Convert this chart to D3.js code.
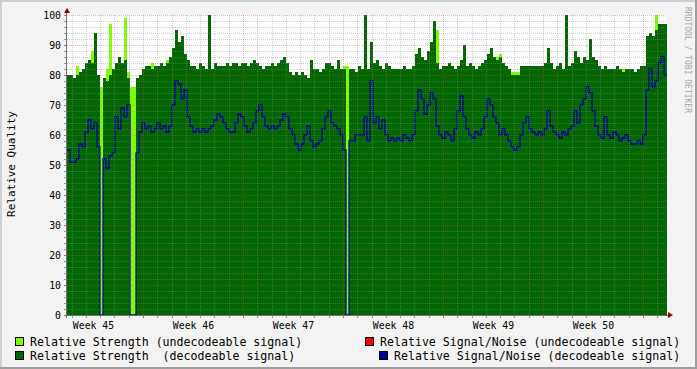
<!DOCTYPE html>
<html>
<head>
<meta charset="utf-8">
<script src="https://cdn.jsdelivr.net/npm/d3@7"></script>
<style>
body { margin: 0; background: #f3f3f3; }
svg { display: block; }
text { font-family: "DejaVu Sans Mono", monospace; fill: #000; }
</style>
</head>
<body>
<script>
// one sample every 5.04 hours, starting Tue 3 Nov 2009 16:19 UTC
var strengthDecode = [80,80,79,80,81,82,84,85,84,94, 80,0,79,78,80,82,84,86,84,85,
  79,0,0,79,80,82,83,83,82,83, 83,84,83,84,86,89,95,91,93,87,
  85,83,83,82,84,83,82,100,82,84, 83,83,83,84,83,84,84,83,84,84,
  83,84,85,84,83,82,83,83,84,83, 84,85,86,84,81,80,81,80,81,80,
  79,85,82,82,81,82,84,84,83,82, 85,82,82,0,82,82,81,83,82,100,
  82,91,84,85,83,82,84,83,82,82, 82,82,83,82,82,83,87,89,86,85,
  88,91,98,84,82,83,83,84,83,82, 83,85,90,83,84,83,82,83,84,85,
  87,89,86,85,86,84,83,82,80,80, 80,83,83,83,83,83,83,83,83,84,
  89,84,82,83,84,82,100,83,84,88, 86,84,86,85,92,86,85,83,82,83,
  82,82,82,83,82,81,82,82,82,81, 82,83,83,93,94,93,95,97,97,97];

var strengthUndecode = [80,80,79,83,81,82,84,85,88,94, 80,76,79,82,97,82,84,86,84,99,
  81,76,76,79,80,82,83,83,84,83, 83,84,83,85,86,89,95,91,93,87,
  85,83,83,82,84,83,82,100,82,84, 83,83,83,84,83,84,84,83,84,84,
  83,84,85,84,83,82,83,83,84,83, 84,85,86,84,81,80,81,80,81,80,
  79,85,82,82,81,82,84,84,83,82, 85,82,83,83,82,82,81,83,82,100,
  82,91,84,85,83,82,84,83,82,82, 82,82,83,82,82,83,87,89,86,85,
  88,91,98,95,82,83,83,84,83,82, 83,85,90,83,84,83,82,83,84,85,
  87,89,86,86,87,84,83,82,81,81, 81,83,83,83,83,83,83,83,83,84,
  89,84,82,83,84,82,100,83,84,88, 86,84,86,85,92,86,85,83,82,83,
  82,82,82,83,82,82,82,82,82,81, 82,83,83,93,94,93,100,97,97,97];

var snrDecode = [55,51,51,52,57,56,61,65,62,64, 56,0,52,49,53,54,66,62,69,66,
  70,0,0,54,61,64,62,63,61,62, 64,62,63,61,63,70,78,77,72,75,
  66,63,61,62,61,62,61,62,63,65, 67,66,64,62,61,61,64,67,66,63,
  61,62,64,68,70,66,63,62,63,62, 63,65,67,66,62,60,57,55,57,60,
  63,58,56,57,58,62,66,68,64,63, 62,60,55,0,58,58,60,60,60,66,
  58,78,64,66,62,65,60,58,59,58, 59,58,60,59,58,60,68,75,72,67,
  70,74,72,63,60,59,61,60,58,62, 68,73,66,62,60,59,61,60,62,66,
  72,70,66,64,60,62,60,58,56,55, 56,60,64,66,62,61,60,61,60,62,
  68,63,61,60,59,61,60,62,63,68, 64,70,72,76,74,68,63,60,59,66,
  60,59,61,60,58,59,60,58,57,57, 58,57,60,75,82,76,78,84,86,80];

var weeks = [45, 46, 47, 48, 49, 50];
var yTicks = [0, 10, 20, 30, 40, 50, 60, 70, 80, 90, 100];

var startTime = Date.UTC(2009, 10, 3, 16, 19);
var stepMs = 5.04 * 3600e3;
var endTime = startTime + strengthDecode.length * stepMs;
var DAY = 864e5;

var W = 697, H = 369;
var pLeft = 67, pRight = 667, pTop = 15, pBottom = 315;

var svg = d3.select("body").append("svg")
    .attr("width", W)
    .attr("height", H);

// background and 3d frame
svg.append("rect").attr("width", W).attr("height", H).attr("fill", "#f3f3f3");
svg.append("rect").attr("x", 0).attr("y", 0).attr("width", W).attr("height", 2).attr("fill", "#cfcfcf");
svg.append("rect").attr("x", 0).attr("y", 0).attr("width", 2).attr("height", H).attr("fill", "#cfcfcf");
svg.append("rect").attr("x", 0).attr("y", H - 2).attr("width", W).attr("height", 2).attr("fill", "#9e9e9e");
svg.append("rect").attr("x", W - 2).attr("y", 0).attr("width", 2).attr("height", H).attr("fill", "#9e9e9e");

var x = d3.scaleUtc()
    .domain([startTime, endTime])
    .range([pLeft, pRight]);

var y = d3.scaleLinear()
    .domain([0, 100])
    .range([pBottom, pTop]);

svg.append("rect")
    .attr("x", pLeft).attr("y", pTop)
    .attr("width", pRight - pLeft).attr("height", pBottom - pTop)
    .attr("fill", "#fff");

svg.append("clipPath").attr("id", "clip")
  .append("rect")
    .attr("x", pLeft).attr("y", pTop - 1)
    .attr("width", pRight - pLeft).attr("height", pBottom - pTop + 1);

function points(vals) {
    var pts = vals.map(function(v, i) { return {t: startTime + i * stepMs, v: v}; });
    pts.push({t: endTime, v: vals[vals.length - 1]});
    return pts;
}

var area = d3.area()
    .curve(d3.curveStepAfter)
    .x(function(d) { return x(d.t); })
    .y0(y(0))
    .y1(function(d) { return y(d.v); });

var line = d3.line()
    .curve(d3.curveStepAfter)
    .x(function(d) { return x(d.t); })
    .y(function(d) { return y(d.v); });

var plot = svg.append("g").attr("clip-path", "url(#clip)");

plot.append("path").datum(points(strengthUndecode))
    .attr("d", area).attr("fill", "#80ff00");
plot.append("path").datum(points(strengthDecode))
    .attr("d", area).attr("fill", "#006600");

// grid
var grid = svg.append("g").attr("fill", "none").attr("stroke-dasharray", "1,1");
var minorY = d3.range(0, 101, 2).filter(function(v) { return v % 10 !== 0; });
grid.selectAll(".hminor").data(minorY).enter().append("line")
    .attr("x1", pLeft).attr("x2", pRight)
    .attr("y1", function(d) { return y(d) + 0.5; })
    .attr("y2", function(d) { return y(d) + 0.5; })
    .attr("stroke", "rgba(143,143,143,0.4)");
var days = x.ticks(d3.utcDay).filter(function(d) { return d.getUTCDay() !== 1; });
grid.selectAll(".vminor").data(days).enter().append("line")
    .attr("x1", function(d) { return Math.round(x(d)) + 0.5; })
    .attr("x2", function(d) { return Math.round(x(d)) + 0.5; })
    .attr("y1", pTop).attr("y2", pBottom)
    .attr("stroke", "rgba(143,143,143,0.4)");
grid.selectAll(".hmajor").data(yTicks.slice(1)).enter().append("line")
    .attr("x1", pLeft).attr("x2", pRight)
    .attr("y1", function(d) { return y(d) + 0.5; })
    .attr("y2", function(d) { return y(d) + 0.5; })
    .attr("stroke", "rgba(222,80,80,0.38)");
var mondays = x.ticks(d3.utcMonday);
grid.selectAll(".vmajor").data(mondays).enter().append("line")
    .attr("x1", function(d) { return Math.round(x(d)) + 0.5; })
    .attr("x2", function(d) { return Math.round(x(d)) + 0.5; })
    .attr("y1", pTop).attr("y2", pBottom)
    .attr("stroke", "rgba(222,80,80,0.38)");

plot.append("path").datum(points(snrDecode))
    .attr("d", line)
    .attr("fill", "none")
    .attr("stroke", "#000099")
    .attr("stroke-width", 1.3);

// tick marks
var ticks = svg.append("g");
ticks.selectAll(".yt").data(d3.range(0, 101, 2)).enter().append("line")
    .attr("x1", pLeft - 3).attr("x2", pLeft)
    .attr("y1", function(d) { return y(d) + 0.5; })
    .attr("y2", function(d) { return y(d) + 0.5; })
    .attr("stroke", function(d) { return d % 10 === 0 ? "#d06060" : "#999"; });
ticks.selectAll(".xt").data(days).enter().append("line")
    .attr("x1", function(d) { return Math.round(x(d)) + 0.5; })
    .attr("x2", function(d) { return Math.round(x(d)) + 0.5; })
    .attr("y1", pBottom).attr("y2", pBottom + 3)
    .attr("stroke", "#999");
ticks.selectAll(".xm").data(mondays).enter().append("line")
    .attr("x1", function(d) { return Math.round(x(d)) + 0.5; })
    .attr("x2", function(d) { return Math.round(x(d)) + 0.5; })
    .attr("y1", pBottom).attr("y2", pBottom + 3)
    .attr("stroke", "#d06060");

// axes lines + arrows
svg.append("line").attr("x1", pLeft - 0.5).attr("x2", pLeft - 0.5)
    .attr("y1", pBottom + 3).attr("y2", 10).attr("stroke", "#707070");
svg.append("line").attr("x1", pLeft - 3).attr("x2", pRight + 3)
    .attr("y1", pBottom + 0.5).attr("y2", pBottom + 0.5).attr("stroke", "#707070");
svg.append("path").attr("d", "M64,13L70,13L67,8Z").attr("fill", "#900000");
svg.append("path").attr("d", "M668,312L668,318L673,315Z").attr("fill", "#900000");

// y axis labels
var yAxis = d3.axisLeft(y).tickValues(yTicks).tickSize(0).tickPadding(6);
var gy = svg.append("g").attr("transform", "translate(" + pLeft + ",0)").call(yAxis);
gy.select(".domain").remove();
gy.selectAll("text").style("font-family", "DejaVu Sans Mono").style("font-size", "9.8px").attr("fill", "#000");

// week labels, centred on each ISO week
var week1 = Date.UTC(2008, 11, 29);
var xAxis = d3.axisBottom(x)
    .tickValues(weeks.map(function(w) { return new Date(week1 + (w - 1) * 7 * DAY + 3.5 * DAY); }))
    .tickFormat(d3.utcFormat("Week %V"))
    .tickSize(0).tickPadding(7);
var gx = svg.append("g").attr("transform", "translate(0," + pBottom + ")").call(xAxis);
gx.select(".domain").remove();
gx.selectAll("text").style("font-family", "DejaVu Sans Mono").style("font-size", "9.8px").attr("fill", "#000");

svg.append("text")
    .attr("transform", "translate(15,164) rotate(-90)")
    .attr("text-anchor", "middle")
    .style("font-size", "11px")
    .text("Relative Quality");

svg.append("text")
    .attr("transform", "translate(685,60) rotate(90)")
    .attr("text-anchor", "middle")
    .style("font-size", "8px")
    .style("fill", "#a8a8a8")
    .text("RRDTOOL / TOBI OETIKER");

// legend
var legendItems = [
    {label: "Relative Strength (undecodeable signal)", color: "#80ff00", x: 15, y: 337},
    {label: "Relative Signal/Noise (undecodeable signal)", color: "#ff0000", x: 365, y: 337},
    {label: "Relative Strength  (decodeable signal)", color: "#006600", x: 15, y: 351},
    {label: "Relative Signal/Noise (decodeable signal)", color: "#000099", x: 379, y: 351}
];
var legend = svg.selectAll(".legend")
    .data(legendItems)
  .enter().append("g")
    .attr("transform", function(d) { return "translate(" + d.x + "," + d.y + ")"; });
legend.append("rect")
    .attr("x", 0.5).attr("y", 0.5)
    .attr("width", 8).attr("height", 8)
    .attr("fill", function(d) { return d.color; })
    .attr("stroke", "#000");
legend.append("text")
    .attr("x", 15).attr("y", 8.5)
    .style("font-size", "11.6px")
    .style("white-space", "pre")
    .text(function(d) { return d.label; });
</script>
</body>
</html>
